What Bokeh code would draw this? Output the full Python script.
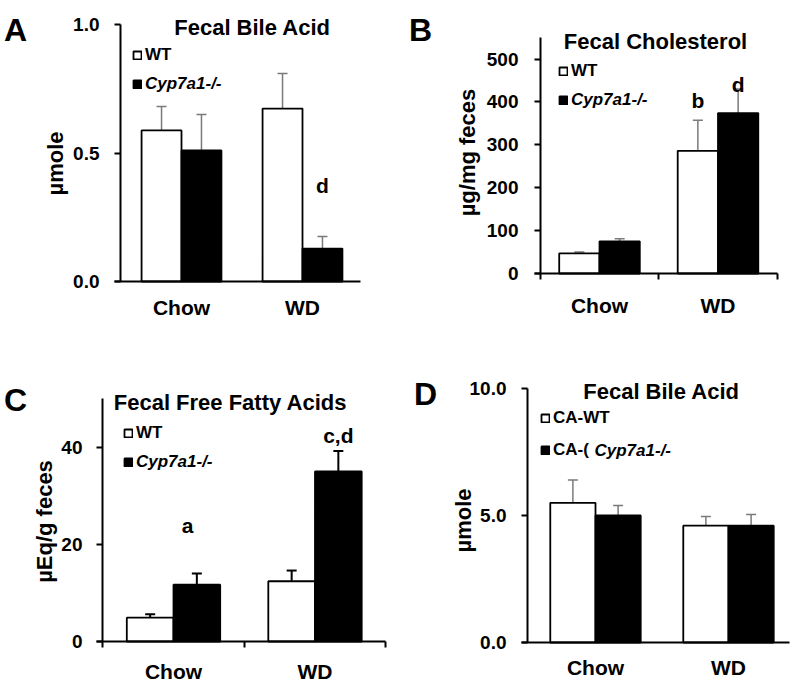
import math
from bokeh.plotting import figure
from bokeh.models import (ColumnDataSource, Whisker, TeeHead, FixedTicker, Label,
                          Legend, LegendItem, Range1d, PrintfTickFormatter)
from bokeh.layouts import column, row
from bokeh.embed import file_html
from bokeh.resources import INLINE

FONT = "Liberation Sans"

# ---------------- data ----------------
groups = ["Chow", "WD"]

# Panel A: Fecal Bile Acid (umole)
a_wt = [0.588, 0.673]
a_wt_err = [0.093, 0.136]
a_ko = [0.510, 0.128]
a_ko_err = [0.140, 0.047]
a_ticks = [0.0, 0.5, 1.0]

# Panel B: Fecal Cholesterol (ug/mg feces)
b_wt = [47, 286]
b_wt_err = [3, 71]
b_ko = [75, 374]
b_ko_err = [6, 56]
b_ticks = [0, 100, 200, 300, 400, 500]

# Panel C: Fecal Free Fatty Acids (uEq/g feces)
c_wt = [4.9, 12.4]
c_wt_err = [0.7, 2.2]
c_ko = [11.7, 35.0]
c_ko_err = [2.3, 4.2]
c_ticks = [0, 20, 40]

# Panel D: Fecal Bile Acid, CA-fed (umole)
d_wt = [5.5, 4.6]
d_wt_err = [0.9, 0.36]
d_ko = [5.0, 4.6]
d_ko_err = [0.39, 0.44]
d_ticks = [0.0, 5.0, 10.0]


def make_panel(g):
    # data <-> pixel mapping: the frame covers the whole figure, axes are pinned
    kx, ky = g["kx"], g["ky"]
    x_start = 1 - (g["cx1"] - g["ox"]) / kx
    x_end = x_start + g["w"] / kx
    y_start = 0 - (g["oy"] + g["h"] - g["fb"]) / ky
    y_end = y_start + g["h"] / ky

    def to_data(sx, sy):
        return x_start + (sx - g["ox"]) / kx, y_start + (g["oy"] + g["h"] - sy) / ky

    p = figure(width=g["w"], height=g["h"], output_backend="svg", toolbar_location=None,
               x_range=Range1d(x_start, x_end), y_range=Range1d(y_start, y_end),
               min_border_left=0, min_border_right=0, min_border_top=0, min_border_bottom=0)
    p.outline_line_color = None
    p.grid.visible = False
    p.background_fill_color = "white"
    p.border_fill_color = "white"

    xs = [i + 1 for i in range(len(groups))]
    off = g["bw"] / 2
    src_wt = ColumnDataSource(dict(x=[x - off for x in xs], top=g["wt"],
                                   upper=[v + e for v, e in zip(g["wt"], g["wt_err"])]))
    src_ko = ColumnDataSource(dict(x=[x + off for x in xs], top=g["ko"],
                                   upper=[v + e for v, e in zip(g["ko"], g["ko_err"])]))
    r_wt = p.vbar(x="x", top="top", width=g["bw"], source=src_wt, fill_color="white",
                  line_color="black", line_width=1.8)
    r_ko = p.vbar(x="x", top="top", width=g["bw"], source=src_ko, fill_color="black",
                  line_color="black", line_width=1.8)
    for src in (src_wt, src_ko):
        w = Whisker(source=src, base="x", upper="upper", lower="top",
                    line_color=g["ecol"], line_width=g["ew"], lower_head=None,
                    upper_head=TeeHead(size=10, line_color=g["ecol"], line_width=g["ew"]))
        p.add_layout(w)

    ax_x, _ = to_data(g["ax"], 0)
    xa_left, _ = to_data(g["ax"] - 6, 0)
    xa_right, _ = to_data(g["fr"], 0)

    # x axis
    xa = p.xaxis[0]
    xa.fixed_location = 0
    xa.bounds = (xa_left, xa_right)
    xa.ticker = FixedTicker(ticks=xs, minor_ticks=g["minor"])
    xa.major_label_overrides = {x: lab for x, lab in zip(xs, groups)}
    xa.major_tick_out = 0
    xa.major_tick_in = 0
    xa.minor_tick_out = 6
    xa.minor_tick_in = 0
    xa.minor_tick_line_width = 2
    xa.axis_line_width = 2
    xa.major_label_text_font = FONT
    xa.major_label_text_font_style = "bold"
    xa.major_label_text_font_size = "21px"
    xa.major_label_text_color = "black"
    xa.major_label_standoff = g["xstand"]

    # y axis
    ya = p.yaxis[0]
    ya.fixed_location = ax_x
    ya.bounds = (0, g["ytop"])
    ya.ticker = FixedTicker(ticks=g["ticks"], minor_ticks=[])
    ya.formatter = PrintfTickFormatter(format=g["fmt"])
    ya.major_tick_out = 6
    ya.major_tick_in = 0
    ya.major_tick_line_width = 2
    ya.axis_line_width = 2
    ya.major_label_text_font = FONT
    ya.major_label_text_font_style = "bold"
    ya.major_label_text_font_size = "19px"
    ya.major_label_text_color = "black"
    ya.major_label_standoff = g["ystand"]

    # y axis title
    yx, yy = to_data(*g["ylabel_pos"])
    p.add_layout(Label(x=yx, y=yy, text=g["ylabel"], angle=math.pi / 2, text_font=FONT,
                       text_font_style="bold", text_font_size="22px", text_color="black",
                       text_align="center", text_baseline="middle"))
    # panel letter (baseline position)
    lx, ly = to_data(*g["letter_pos"])
    p.add_layout(Label(x=lx, y=ly, text=g["letter"], text_font=FONT, text_font_style="bold",
                       text_font_size="32px", text_color="black",
                       text_align="center", text_baseline="alphabetic"))
    # title
    tx, ty = to_data(*g["title_pos"])
    p.add_layout(Label(x=tx, y=ty, text=g["title"], text_font=FONT, text_font_style="bold",
                       text_font_size="22px", text_color="black",
                       text_align="center", text_baseline="middle"))
    # significance letters (data coordinates)
    for txt, sx, sy in g["sig"]:
        p.add_layout(Label(x=sx, y=sy, text=txt, text_font=FONT, text_font_style="bold",
                           text_font_size="21px", text_color="black",
                           text_align="center", text_baseline="middle"))

    # legends (one per entry so that each can have its own font style)
    for (lab, style, (sx, sy)), rr in zip(g["legend"], (r_wt, r_ko)):
        leg = Legend(items=[LegendItem(label=lab, renderers=[rr])],
                     location=(sx - g["ox"], g["oy"] + g["h"] - sy - 10),
                     padding=0, margin=0, spacing=0, glyph_width=10, glyph_height=10,
                     label_height=20, label_standoff=3,
                     label_text_font=FONT, label_text_font_style=style,
                     label_text_font_size="17px", label_text_color="black",
                     background_fill_alpha=0, border_line_alpha=0)
        p.add_layout(leg)
    for txt, style, (sx, sy) in g.get("extra", []):
        ex, ey = to_data(sx, sy)
        p.add_layout(Label(x=ex, y=ey, text=txt, text_font=FONT, text_font_style=style,
                           text_font_size="17px", text_color="black",
                           text_align="left", text_baseline="middle"))
    return p


ga = dict(ox=0, oy=0, w=400, h=330, ax=120, fr=360, fb=281, kx=121, cx1=181, ky=257,
          ytop=1.0, bw=0.33, wt=a_wt, wt_err=a_wt_err, ko=a_ko, ko_err=a_ko_err,
          ecol="#7a7a7a", ew=1.5, minor=[], ticks=a_ticks, fmt="%.1f",
          xstand=14, ystand=15, ylabel="µmole", ylabel_pos=(55, 163),
          letter="A", letter_pos=(15, 29), title="Fecal Bile Acid", title_pos=(252, 27),
          sig=[("d", 2 + 0.165, 0.374)],
          legend=[("WT", "bold", (132, 55)), ("Cyp7a1-/-", "bold italic", (132, 84))])

gb = dict(ox=400, oy=0, w=397, h=330, ax=540, fr=777, fb=273, kx=118.5, cx1=599, ky=0.429,
          ytop=550, bw=0.34, wt=b_wt, wt_err=b_wt_err, ko=b_ko, ko_err=b_ko_err,
          ecol="#7a7a7a", ew=1.5, minor=[0.5, 1.5, 2.5], ticks=b_ticks, fmt="%d",
          xstand=14, ystand=16, ylabel="µg/mg feces", ylabel_pos=(467, 152),
          letter="B", letter_pos=(420, 29), title="Fecal Cholesterol", title_pos=(655, 41),
          sig=[("b", 2 - 0.17, 403), ("d", 2 + 0.17, 440)],
          legend=[("WT", "bold", (558, 71)), ("Cyp7a1-/-", "bold italic", (558, 100))])

gc = dict(ox=0, oy=330, w=400, h=354, ax=102, fr=385, fb=641, kx=141.5, cx1=173, ky=4.86,
          ytop=50, bw=0.33, wt=c_wt, wt_err=c_wt_err, ko=c_ko, ko_err=c_ko_err,
          ecol="black", ew=2, minor=[0.5, 1.5, 2.5], ticks=c_ticks, fmt="%d",
          xstand=12, ystand=14, ylabel="µEq/g feces", ylabel_pos=(44, 521),
          letter="C", letter_pos=(15, 399), title="Fecal Free Fatty Acids", title_pos=(230, 402),
          sig=[("a", 1 + 0.1, 23.9), ("c,d", 2 + 0.165, 42.4)],
          legend=[("WT", "bold", (123, 433)), ("Cyp7a1-/-", "bold italic", (123, 462))])

gd = dict(ox=400, oy=330, w=397, h=354, ax=527, fr=789, fb=642, kx=133, cx1=595, ky=25.4,
          ytop=10, bw=0.34, wt=d_wt, wt_err=d_wt_err, ko=d_ko, ko_err=d_ko_err,
          ecol="#7a7a7a", ew=1.5, minor=[], ticks=d_ticks, fmt="%.1f",
          xstand=13, ystand=15, ylabel="µmole", ylabel_pos=(463, 520),
          letter="D", letter_pos=(425, 393), title="Fecal Bile Acid", title_pos=(661, 391),
          sig=[],
          legend=[("CA-WT", "bold", (540, 418)), ("CA-(", "bold", (540, 450))],
          extra=[("Cyp7a1-/-", "bold italic", (594, 450))])

pa = make_panel(ga)
pb = make_panel(gb)
pc = make_panel(gc)
pd = make_panel(gd)

layout = column(row(pa, pb), row(pc, pd))
open("out.html", "w").write(file_html(layout, INLINE))
